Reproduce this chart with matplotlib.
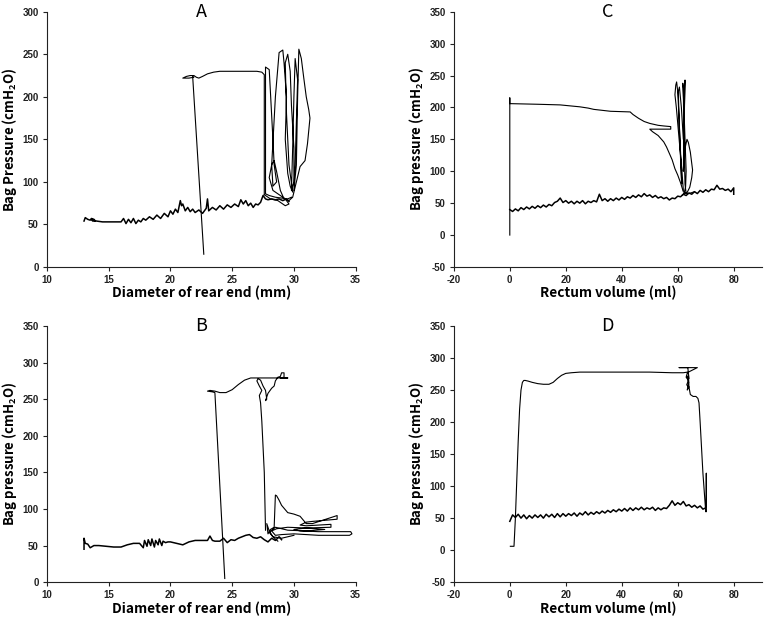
import matplotlib
matplotlib.use("Agg")
import matplotlib.pyplot as plt

# ---- panel A: diameter vs bag pressure ----
a_base_x = [13.0, 13.1, 13.3, 13.5, 13.6, 13.8, 13.9, 13.7, 13.6, 14.0,
            14.5, 15.0, 15.5, 16.0, 16.2, 16.4, 16.6, 16.8, 17.0, 17.2,
            17.4, 17.6, 17.8, 18.0, 18.3, 18.6, 18.9, 19.2, 19.5, 19.8,
            20.0, 20.2, 20.4, 20.6, 20.8, 20.9, 21.0, 21.2, 21.4, 21.6,
            21.8, 22.0, 22.3, 22.6, 22.9, 23.0, 23.1, 23.4, 23.7, 24.0,
            24.3, 24.6, 24.9, 25.2, 25.5, 25.7, 25.9, 26.1, 26.3, 26.5,
            26.7, 26.9, 27.1, 27.3, 27.5, 27.7, 27.9, 28.2, 28.5, 28.8,
            29.1, 29.4, 29.6]
a_base_y = [54, 58, 56, 55, 57, 56, 54, 54, 56, 54,
            53, 53, 53, 53, 57, 51, 56, 52, 57, 51,
            55, 53, 57, 55, 59, 56, 61, 57, 63, 59,
            66, 62, 68, 64, 78, 72, 74, 66, 70, 65,
            68, 64, 67, 63, 69, 80, 66, 70, 67, 72,
            68, 73, 70, 74, 71, 79, 74, 78, 72, 75,
            70, 74, 73, 76, 84, 80, 79, 80, 79, 80,
            78, 80, 77]
a_loop_x = [29.8, 29.5, 29.0, 28.5, 28.0, 27.7, 27.7, 27.7, 28.0, 28.1,
            28.3, 28.4, 28.6, 28.3, 28.2, 28.5, 28.8, 29.1, 29.2, 29.4,
            29.3, 29.5, 29.7, 29.9, 29.6, 29.4, 29.3, 29.5, 29.7, 29.8,
            30.0, 30.0, 29.8, 29.9, 30.0, 30.1, 30.3, 30.2, 30.1, 30.0,
            30.2, 30.3, 30.4, 30.6, 30.8, 31.0, 31.2, 31.3, 31.1, 30.9,
            30.5, 30.2, 29.9, 29.6, 29.2, 28.9, 28.6, 28.4, 28.2, 28.0,
            28.3, 28.8, 29.3, 29.6, 29.3, 28.7, 28.1, 27.6]
a_loop_y = [82, 80, 81, 82, 84, 86, 160, 235, 232, 205,
            150, 120, 100, 95, 120, 200, 252, 255, 240, 200,
            150, 110, 95, 88, 120, 180, 240, 250, 230, 190,
            140, 100, 90, 140, 200, 245, 220, 170, 120, 90,
            120, 200, 256, 245, 222, 200, 185, 175, 145, 125,
            118, 100, 82, 78, 80, 90, 112, 125, 120, 105,
            90, 85, 80, 74, 72, 78, 80, 85]
a_top_x = [27.6, 27.6, 27.4, 27.0, 26.0, 25.0, 24.0, 23.5, 23.0, 22.6,
           22.3, 22.1, 21.9, 21.6, 21.3, 21.0, 21.5, 21.9, 21.8, 22.7]
a_top_y = [85, 226, 229, 230, 230, 230, 230, 229, 227, 224,
           222, 223, 225, 225, 224, 222, 222, 223, 224, 15]

# ---- panel B ----
b_base_x = [13.0, 13.0, 13.1, 13.3, 13.5, 13.8, 14.2, 14.8, 15.4, 16.0,
            16.5, 17.0, 17.5, 17.8, 17.9, 18.1, 18.2, 18.4, 18.5, 18.7,
            18.8, 19.0, 19.1, 19.3, 19.4, 19.6, 19.8, 20.0, 20.5, 21.0,
            21.5, 22.0, 22.5, 23.0, 23.2, 23.4, 23.6, 24.0, 24.3, 24.6,
            24.9, 25.2, 25.5, 25.8, 26.1, 26.4, 26.7, 27.0, 27.3, 27.6,
            27.9, 28.2, 28.5, 28.8, 29.0]
b_base_y = [45, 60, 53, 52, 47, 50, 50, 49, 48, 48,
            51, 53, 53, 47, 57, 49, 58, 50, 59, 48,
            57, 51, 59, 50, 56, 54, 55, 55, 53, 51,
            55, 57, 57, 57, 63, 57, 56, 56, 60, 54,
            58, 57, 60, 62, 64, 65, 61, 60, 62, 58,
            55, 60, 57, 62, 58]
b_loop_x = [28.7, 28.3, 28.0, 27.8, 27.9, 28.1, 28.4, 28.5, 28.6, 28.8,
            29.0, 29.5, 30.0, 30.5, 30.8, 31.0, 31.5, 33.5, 33.5, 31.5,
            31.0, 30.5, 31.0, 33.0, 33.0, 31.0, 30.0, 30.5, 32.0, 34.6,
            34.7, 34.5, 32.0, 30.0, 29.0, 28.5, 28.2, 28.6, 29.5, 31.0,
            32.5, 31.0, 29.5, 28.5, 28.0, 28.3, 29.0, 30.0]
b_loop_y = [56, 62, 70, 80, 66, 72, 75, 119, 118, 112,
            105, 95, 93, 90, 84, 80, 80, 91, 86, 83,
            82, 78, 77, 79, 75, 74, 72, 70, 69, 69,
            66, 64, 64, 66, 65, 64, 70, 73, 75, 74,
            72, 70, 71, 75, 68, 62, 60, 64]
b_top_x = [27.7, 27.6, 27.4, 27.3, 27.2, 27.4, 27.2, 27.0, 27.1, 27.3,
           27.5, 27.7, 27.8, 27.7, 27.9, 28.2, 28.4, 28.5, 28.7, 28.9,
           29.0, 29.2, 29.2, 28.9, 29.5, 28.0, 27.0, 26.5, 26.0, 25.5,
           25.0, 24.5, 24.0, 23.6, 23.2, 23.0, 23.4, 23.6, 24.4]
b_top_y = [71, 150, 220, 245, 255, 262, 268, 275, 278, 276,
           268, 262, 250, 248, 258, 265, 268, 275, 280, 281,
           286, 286, 280, 279, 279, 279, 279, 279, 276, 270,
           263, 259, 259, 261, 262, 261, 260, 259, 5]

# ---- panel C: rectum volume ----
c_top_x = [0, 0, 0, 10, 18, 25, 28, 30, 36, 43,
           44, 46, 48, 50, 53, 55, 57.5, 57.5, 50, 51,
           53, 55, 56, 57, 58, 59, 60, 61, 62]
c_top_y = [0, 215, 206, 205, 204, 201, 199, 197, 194, 193,
           189, 183, 178, 175, 172, 171, 170, 166, 166, 162,
           156, 146, 138, 128, 118, 104, 94, 82, 68]
c_base_x = [0, 1, 2, 3, 4, 5, 6, 7, 8, 9,
            10, 11, 12, 13, 14, 15, 16, 17, 18, 19,
            20, 21, 22, 23, 24, 25, 26, 27, 28, 29,
            30, 31, 32, 33, 34, 35, 36, 37, 38, 39,
            40, 41, 42, 43, 44, 45, 46, 47, 48, 49,
            50, 51, 52, 53, 54, 55, 56, 57, 58, 59,
            60, 61, 62, 63, 64, 65, 66, 67, 68, 69,
            70, 71, 72, 73, 74, 75, 76, 77, 78, 79,
            80, 80]
c_base_y = [40, 37, 41, 38, 43, 40, 44, 41, 45, 42,
            46, 43, 47, 44, 48, 46, 51, 53, 58, 51,
            54, 50, 53, 49, 53, 50, 54, 49, 53, 51,
            54, 52, 64, 54, 57, 53, 57, 54, 58, 55,
            59, 56, 60, 58, 62, 59, 63, 60, 65, 61,
            63, 59, 62, 58, 60, 57, 59, 55, 58, 57,
            61, 60, 64, 62, 66, 64, 68, 65, 70, 67,
            71, 68, 72, 71, 78, 72, 73, 70, 72, 68,
            74, 64]
c_loop_x = [62, 61.5, 60.5, 59.5, 59.0, 59.3, 59.6, 60.0, 60.4, 60.8,
            61.2, 61.4, 61.0, 60.5, 60.2, 60.6, 61.3, 62.0, 62.3, 62.5,
            62.6, 62.4, 62.2, 62.0, 62.3, 62.8, 63.3, 63.8, 64.5, 65.3,
            65.0, 64.3, 63.5, 63.0, 62.6, 62.2, 62.0, 61.8, 62.2, 62.6,
            63.0, 62.8, 62.4, 62.0, 61.5, 62.5, 64.0, 66.0]
c_loop_y = [70, 100, 150, 200, 220, 235, 240, 225, 190, 150,
            110, 80, 120, 180, 225, 232, 200, 150, 180, 230,
            243, 200, 150, 100, 130, 140, 150, 145, 130, 102,
            90, 75, 68, 65, 80, 150, 230, 238, 200, 150,
            100, 75, 68, 64, 62, 66, 65, 68]

# ---- panel D ----
d_top_x = [0.2, 1.5, 2.0, 2.5, 3.0, 3.5, 4.0, 4.5, 5.0, 5.5,
           6.5, 8.0, 10.0, 12.0, 14.0, 15.5, 17.0, 18.5, 20.0, 22.0,
           25.0, 30.0, 40.0, 50.0, 58.0, 62.0, 63.5, 63.0, 63.8, 63.2,
           64.0, 63.4, 63.9, 63.3, 64.0, 63.6, 60.5, 67.0, 63.8, 64.0,
           64.5, 65.5, 66.5, 67.2, 67.6, 68.0, 68.5, 69.0, 69.5, 70.0,
           70.2, 70.2, 70.2]
d_top_y = [6, 6, 50, 110, 170, 220, 250, 262, 265, 265,
           264, 262, 260, 259, 259, 262, 268, 273, 276, 277,
           278, 278, 278, 278, 277, 277, 278, 270, 265, 258,
           255, 250, 262, 272, 268, 285, 285, 285, 278, 255,
           243, 240, 240, 237, 230, 200, 160, 120, 90, 60,
           60, 120, 68]
d_base_x = [0, 1, 2, 3, 4, 5, 6, 7, 8, 9,
            10, 11, 12, 13, 14, 15, 16, 17, 18, 19,
            20, 21, 22, 23, 24, 25, 26, 27, 28, 29,
            30, 31, 32, 33, 34, 35, 36, 37, 38, 39,
            40, 41, 42, 43, 44, 45, 46, 47, 48, 49,
            50, 51, 52, 53, 54, 55, 56, 57, 58, 59,
            60, 61, 62, 63, 64, 65, 66, 67, 68, 69,
            70]
d_base_y = [45, 55, 51, 56, 50, 55, 49, 54, 50, 55,
            51, 55, 50, 56, 52, 56, 51, 57, 52, 57,
            53, 57, 54, 58, 53, 58, 55, 60, 55, 59,
            56, 60, 57, 61, 58, 62, 59, 63, 60, 64,
            61, 65, 61, 66, 62, 66, 63, 67, 63, 66,
            64, 67, 62, 66, 63, 66, 65, 70, 77, 70,
            74, 71, 76, 69, 71, 67, 70, 66, 69, 64,
            66]

diam_ticks = [10, 15, 20, 25, 30, 35]
vol_ticks = [-20, 0, 20, 40, 60, 80]

label_font = ['Noto Sans CJK SC', 'DejaVu Sans']
plt.rcParams['mathtext.default'] = 'regular'
plt.rcParams['axes.unicode_minus'] = False

fig = plt.figure(figsize=(7.64, 6.18), dpi=100)

def style_axes(ax, title, xlabel, ylabel):
    for s in ['top', 'right']:
        ax.spines[s].set_visible(False)
    for s in ['left', 'bottom']:
        ax.spines[s].set_linewidth(0.8)
        ax.spines[s].set_color('#222222')
    ax.tick_params(direction='out', length=3, width=0.8, labelsize=7,
                   colors='#222222', pad=3)
    for lab in ax.get_xticklabels() + ax.get_yticklabels():
        lab.set_fontweight('bold')
        lab.set_family('Liberation Sans')
    ax.set_xlabel(xlabel, family=label_font, fontsize=9.8, fontweight='bold')
    ax.set_ylabel(ylabel, family=label_font, fontsize=9.5, fontweight='bold')
    ax.text(0.5, 1.0, title, transform=ax.transAxes, ha='center', va='center',
            family=label_font, fontsize=13)
    ax.xaxis.set_label_coords(0.5, -0.075)
    ax.yaxis.set_label_coords(-0.09, 0.5)

kw = dict(color='black', lw=0.8)
kb = dict(color='black', lw=1.1)

# A
axA = fig.add_axes([0.0615, 0.568, 0.404, 0.413])
axA.plot(a_base_x, a_base_y, **kb)
axA.plot(a_loop_x, a_loop_y, **kw)
axA.plot(a_top_x, a_top_y, **kw)
axA.set_xlim(10, 35)
axA.set_ylim(0, 300)
axA.set_xticks(diam_ticks)
axA.set_yticks(range(0, 301, 50))
style_axes(axA, 'A', 'Diameter of rear end (mm)', 'Bag Pressure (cmH$_2$O)')

# B
axB = fig.add_axes([0.0615, 0.058, 0.404, 0.4145])
axB.plot(b_base_x, b_base_y, **kb)
axB.plot(b_loop_x, b_loop_y, **kw)
axB.plot(b_top_x, b_top_y, **kw)
axB.set_xlim(10, 35)
axB.set_ylim(0, 350)
axB.set_xticks(diam_ticks)
axB.set_yticks(range(0, 351, 50))
style_axes(axB, 'B', 'Diameter of rear end (mm)', 'Bag pressure (cmH$_2$O)')

# C
axC = fig.add_axes([0.594, 0.568, 0.403, 0.413])
axC.plot(c_base_x, c_base_y, **kb)
axC.plot(c_top_x, c_top_y, **kw)
axC.plot(c_loop_x, c_loop_y, **kw)
axC.set_xlim(-20, 90)
axC.set_ylim(-50, 350)
axC.set_xticks(vol_ticks)
axC.set_yticks(range(-50, 351, 50))
style_axes(axC, 'C', 'Rectum volume (ml)', 'Bag pressure (cmH$_2$O)')

# D
axD = fig.add_axes([0.594, 0.058, 0.403, 0.4145])
axD.plot(d_base_x, d_base_y, **kb)
axD.plot(d_top_x, d_top_y, **kw)
axD.set_xlim(-20, 90)
axD.set_ylim(-50, 350)
axD.set_xticks(vol_ticks)
axD.set_yticks(range(-50, 351, 50))
style_axes(axD, 'D', 'Rectum volume (ml)', 'Bag pressure (cmH$_2$O)')

fig.savefig('out.png', dpi=100)
